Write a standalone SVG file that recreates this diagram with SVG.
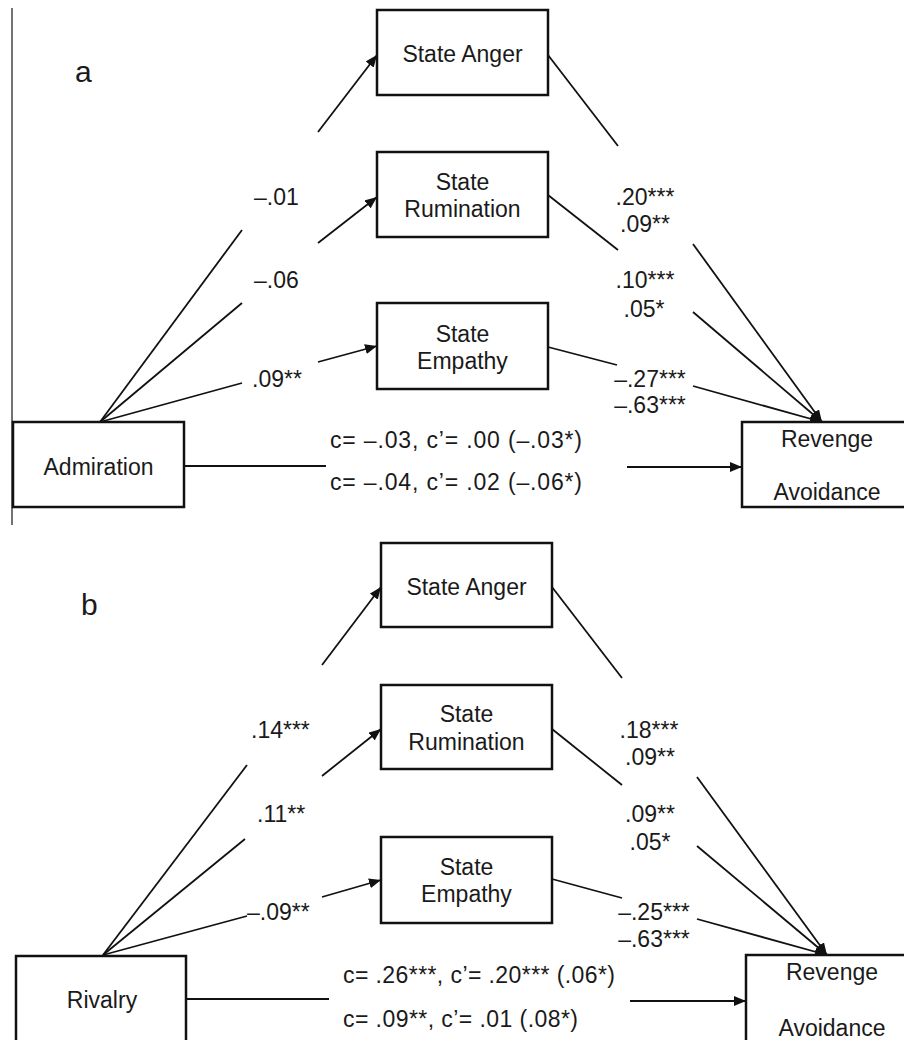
<svg xmlns="http://www.w3.org/2000/svg" width="904" height="1040" viewBox="0 0 904 1040">
<defs>
<marker id="ah" markerUnits="userSpaceOnUse" markerWidth="13" markerHeight="10" refX="12" refY="5" orient="auto">
<path d="M0,0 L12,5 L0,10 Z" fill="#111"/>
</marker>
<style>
.box{fill:#fff;stroke:#111;stroke-width:2.5}
.ln{stroke:#111;stroke-width:1.8;fill:none}
.ar{stroke:#111;stroke-width:1.8;fill:none;marker-end:url(#ah)}
text{font-family:"Liberation Sans",Arial,sans-serif;font-size:23px;fill:#1a1a1a}
.c{text-anchor:middle}
.lab{font-size:30px}
</style>
</defs>
<rect width="904" height="1040" fill="#fff"/>
<line x1="12" y1="8" x2="12" y2="525" stroke="#444" stroke-width="1.5"/>
<text class="lab" x="75" y="82">a</text>
<text class="lab" x="81" y="615">b</text>

<g id="connectors">
<!-- panel a -->
<line class="ln" x1="100" y1="422" x2="242" y2="230"/>
<line class="ar" x1="318" y1="132" x2="377" y2="55"/>
<line class="ln" x1="100" y1="422" x2="242" y2="303"/>
<line class="ar" x1="318" y1="243" x2="377" y2="197"/>
<line class="ln" x1="100" y1="422" x2="242" y2="383"/>
<line class="ar" x1="318" y1="362" x2="377" y2="346"/>
<line class="ln" x1="548" y1="55" x2="618" y2="146"/>
<line class="ar" x1="693" y1="244" x2="822" y2="422"/>
<line class="ln" x1="548" y1="195" x2="618" y2="250"/>
<line class="ar" x1="693" y1="312" x2="822" y2="422"/>
<line class="ln" x1="548" y1="347" x2="617" y2="365"/>
<line class="ar" x1="693" y1="386" x2="822" y2="422"/>
<line class="ln" x1="184" y1="466" x2="326" y2="466"/>
<line class="ar" x1="627" y1="467" x2="742" y2="467"/>
<!-- panel b -->
<line class="ln" x1="103" y1="955" x2="247" y2="765"/>
<line class="ar" x1="322" y1="665" x2="381" y2="587"/>
<line class="ln" x1="103" y1="955" x2="245" y2="839"/>
<line class="ar" x1="322" y1="776" x2="381" y2="729"/>
<line class="ln" x1="103" y1="955" x2="247" y2="916"/>
<line class="ar" x1="322" y1="897" x2="381" y2="880"/>
<line class="ln" x1="552" y1="587" x2="622" y2="678"/>
<line class="ar" x1="697" y1="777" x2="827" y2="955"/>
<line class="ln" x1="552" y1="729" x2="622" y2="785"/>
<line class="ar" x1="697" y1="846" x2="827" y2="955"/>
<line class="ln" x1="552" y1="879" x2="622" y2="898"/>
<line class="ar" x1="697" y1="919" x2="827" y2="955"/>
<line class="ln" x1="186" y1="999" x2="329" y2="999"/>
<line class="ar" x1="630" y1="1001" x2="746" y2="1001"/>
</g>

<g id="labels">
<text x="254" y="205">–.01</text>
<text x="254" y="288">–.06</text>
<text x="252" y="387">.09**</text>
<text class="c" x="645" y="205">.20***</text>
<text class="c" x="645" y="232">.09**</text>
<text class="c" x="645" y="288">.10***</text>
<text class="c" x="644" y="317">.05*</text>
<text class="c" x="650" y="387">–.27***</text>
<text class="c" x="650" y="413">–.63***</text>
<text x="330" y="448" textLength="252" lengthAdjust="spacing">c= –.03, c’= .00 (–.03*)</text>
<text x="330" y="490" textLength="252" lengthAdjust="spacing">c= –.04, c’= .02 (–.06*)</text>

<text x="251" y="738">.14***</text>
<text x="257" y="822">.11**</text>
<text x="247" y="920">–.09**</text>
<text class="c" x="649" y="738">.18***</text>
<text class="c" x="650" y="765">.09**</text>
<text class="c" x="650" y="822">.09**</text>
<text class="c" x="650" y="850">.05*</text>
<text class="c" x="654" y="920">–.25***</text>
<text class="c" x="654" y="947">–.63***</text>
<text x="343" y="983" textLength="272" lengthAdjust="spacing">c= .26***, c’= .20*** (.06*)</text>
<text x="343" y="1027" textLength="235" lengthAdjust="spacing">c= .09**, c’= .01 (.08*)</text>
</g>

<g id="a_admiration">
<rect class="box" x="13" y="422" width="171" height="85"/>
<text class="c" x="98.5" y="475">Admiration</text>
</g>
<g id="a_anger">
<rect class="box" x="377" y="10" width="171" height="85"/>
<text class="c" x="462.5" y="62">State Anger</text>
</g>
<g id="a_rumination">
<rect class="box" x="377" y="152" width="171" height="85"/>
<text class="c" x="462.5" y="190">State</text>
<text class="c" x="462.5" y="217">Rumination</text>
</g>
<g id="a_empathy">
<rect class="box" x="377" y="303" width="171" height="86"/>
<text class="c" x="462.5" y="342">State</text>
<text class="c" x="462.5" y="369">Empathy</text>
</g>
<g id="a_revenge">
<rect class="box" x="742" y="422" width="170" height="85"/>
<text class="c" x="827" y="447">Revenge</text>
<text class="c" x="827" y="500">Avoidance</text>
</g>

<g id="b_rivalry">
<rect class="box" x="16" y="956" width="170" height="86"/>
<text class="c" x="102" y="1008">Rivalry</text>
</g>
<g id="b_anger">
<rect class="box" x="381" y="543" width="171" height="84"/>
<text class="c" x="466.5" y="595">State Anger</text>
</g>
<g id="b_rumination">
<rect class="box" x="381" y="685" width="171" height="84"/>
<text class="c" x="466.5" y="722">State</text>
<text class="c" x="466.5" y="750">Rumination</text>
</g>
<g id="b_empathy">
<rect class="box" x="381" y="837" width="171" height="86"/>
<text class="c" x="466.5" y="875">State</text>
<text class="c" x="466.5" y="902">Empathy</text>
</g>
<g id="b_revenge">
<rect class="box" x="746" y="955" width="170" height="87"/>
<text class="c" x="832" y="980">Revenge</text>
<text class="c" x="832" y="1036">Avoidance</text>
</g>
</svg>
